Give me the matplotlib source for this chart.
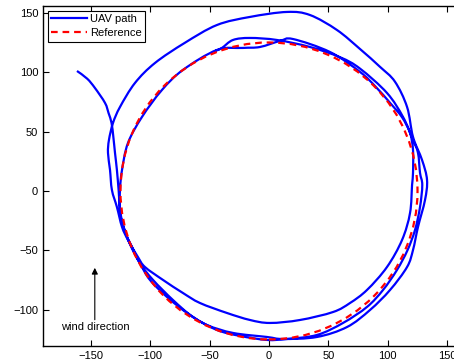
import matplotlib
matplotlib.use("Agg")
import numpy as np
import matplotlib.pyplot as plt
from matplotlib.patches import Circle, PathPatch
from matplotlib.path import Path
from matplotlib.lines import Line2D

plt.rcParams['font.family'] = ['Liberation Sans', 'DejaVu Sans']
plt.rcParams['font.size'] = 8

# UAV path (data units)
uav_x = [-161.6, -153.0, -146.5, -138.0, -135.0, -132.5, -131.0, -129.6, -128.0, -126.5,
         -125.0, -121.5, -116.0, -108.0, -100.2, -85.9, -69.0, -52.2, -30.3, -1.7,
         11.8, 40.4, 65.7, 85.0, 101.9, 116.2, 121.2, 125.4, 131.3, 133.0,
         128.8, 121.2, 116.2, 106.0, 93.4, 76.6, 57.2, 34.5, 15.2, -16.0,
         -43.8, -71.0, -96.0, -112.8, -125.4, -131.3, -134.7, -135.5, -133.8, -132.2,
         -128.0, -123.7, -118.7, -110.3, -104.4, -89.2, -72.4, -58.1, -35.4, -16.0,
         0.8, 26.1, 53.9, 68.2, 82.5, 99.3, 112.0, 118.7, 120.4, 121.2,
         121.2, 118.7, 112.0, 101.9, 90.0, 76.6, 51.3, 20.2, 9.3, -7.6, -21.9,
         -43.8, -72.4, -90.1, -106.9, -118.7, -123.7, -125.4, -125.4, -120.5, -115.3,
         -108.5, -97.6, -80.8, -64.0, -43.8, -24.4, -1.7, 15.2, 40.4, 62.3,
         82.5, 96.0, 107.7, 116.5, 122.9, 127.1, 129.0, 127.1, 125.4, 121.2,
         112.8, 99.3, 76.6, 60.0, 34.5, 6.7, -16.0, -30.3, -39.6, -45.0]
uav_y = [101.0, 94.5, 86.7, 74.1, 65.5, 57.2, 45.5, 32.0, 17.7, 0.0,
         -18.5, -33.0, -47.0, -62.0, -74.9, -89.2, -102.7, -112.8, -119.5, -122.9,
         -124.6, -122.9, -114.5, -100.2, -83.3, -64.0, -49.7, -30.3, -7.6, 9.3,
         26.1, 45.5, 70.7, 92.0, 104.5, 119.5, 135.5, 148.1, 150.7, 146.5,
         139.7, 124.6, 107.7, 90.9, 70.7, 57.2, 42.9, 32.0, 17.7, 0.8,
         -13.5, -30.3, -41.2, -55.6, -64.0, -74.9, -85.9, -94.3, -102.7, -108.6,
         -111.1, -108.6, -101.9, -94.3, -83.3, -64.0, -41.2, -18.5, 5.0, 15.2,
         34.5, 48.8, 62.0, 74.1, 87.5, 100.2, 117.0, 127.9, 126.3, 121.2, 120.4,
         118.7, 101.9, 85.0, 62.3, 40.4, 17.7, 0.8, -18.5, -36.0, -47.1,
         -61.0, -74.9, -91.8, -106.0, -117.0, -122.0, -125.4, -124.6, -121.2, -111.1,
         -97.6, -83.3, -66.5, -50.0, -32.8, -13.5, 5.0, 15.2, 32.0, 42.9,
         62.3, 82.5, 103.0, 112.5, 121.2, 127.1, 128.8, 127.1, 120.4, 118.0]

# reference circle
ref_center = (0, 0)
ref_radius = 125

x_ticks = [-150, -100, -50, 0, 50, 100, 150]
y_ticks = [-100, -50, 0, 50, 100, 150]


def smooth_path(xs, ys):
    # cubic Bezier segments through the read points (Catmull-Rom tangents)
    p = np.column_stack([xs, ys])
    pe = np.vstack([p[0], p, p[-1]])
    verts = [p[0]]
    codes = [Path.MOVETO]
    for i in range(len(p) - 1):
        c1 = pe[i + 1] + (pe[i + 2] - pe[i]) / 6
        c2 = pe[i + 2] - (pe[i + 3] - pe[i + 1]) / 6
        verts += [c1, c2, pe[i + 2]]
        codes += [Path.CURVE4] * 3
    return Path(verts, codes)


fig = plt.figure(figsize=(4.54, 3.62), dpi=100)
ax = fig.add_axes([43 / 454, 16 / 362, 411 / 454, 340 / 362])

ax.add_patch(PathPatch(smooth_path(uav_x, uav_y), fill=False, edgecolor='#0000ff',
                       lw=1.6, joinstyle='round', zorder=2))
ax.add_patch(Circle(ref_center, ref_radius, fill=False, edgecolor='#ff0000',
                    lw=1.6, linestyle=(0, (3, 2.2)), zorder=3))

ax.set_xlim(-190.2, 155.7)
ax.set_ylim(-130.5, 155.7)
ax.set_xticks(x_ticks)
ax.set_yticks(y_ticks)
ax.tick_params(direction='in', top=True, right=False, length=4, width=0.8, labelsize=8)
ax.spines['right'].set_visible(False)
for s in ['left', 'top', 'bottom']:
    ax.spines[s].set_linewidth(1.0)

ax.annotate('', xy=(-146.6, -64.7), xytext=(-146.6, -108.4),
            arrowprops=dict(arrowstyle='-|>', color='black', lw=0.8,
                            mutation_scale=9, shrinkA=0, shrinkB=0))
ax.text(-146.0, -114.3, 'wind direction', ha='center', va='center', fontsize=8)

handles = [Line2D([], [], color='#0000ff', lw=1.6),
           Line2D([], [], color='#ff0000', lw=1.6, linestyle=(0, (3, 2.2)))]
leg = ax.legend(handles, ['UAV path', 'Reference'], loc='upper left', fontsize=8,
                fancybox=False, edgecolor='black', framealpha=1, handlelength=3.2,
                handletextpad=0.3, labelspacing=0.35, borderpad=0.3,
                borderaxespad=0.45)
leg.get_frame().set_linewidth(0.8)

fig.savefig('out.png', dpi=100)
